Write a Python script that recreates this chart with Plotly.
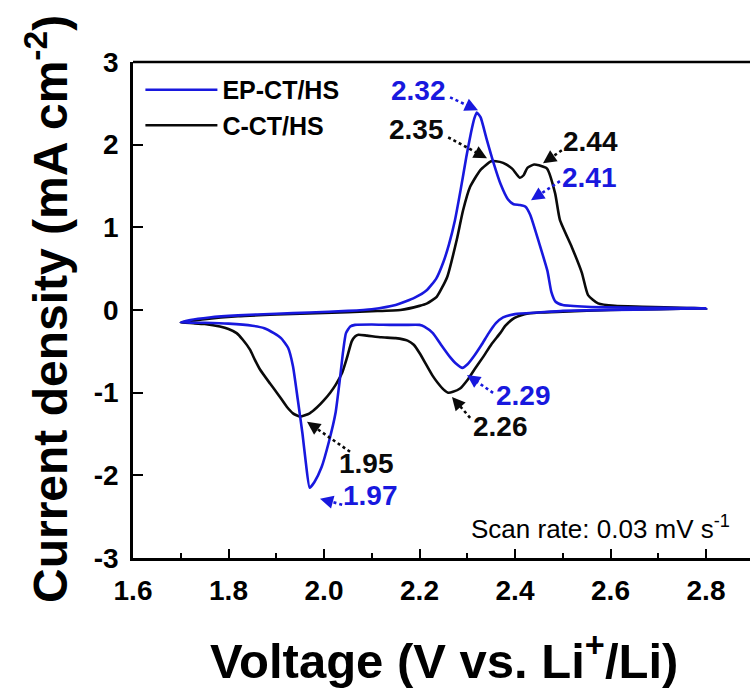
import plotly.graph_objects as go

# Cyclic voltammograms (current density vs. potential), each as anodic + cathodic sweep
ep_anodic_v = [1.70, 1.72, 1.76, 1.82, 1.90, 1.97, 2.05, 2.10, 2.15, 2.19, 2.215, 2.235,
               2.25, 2.262, 2.274, 2.286, 2.298, 2.308, 2.315, 2.32, 2.328, 2.34, 2.355,
               2.37, 2.385, 2.397, 2.41, 2.422, 2.432, 2.45, 2.468, 2.476, 2.485, 2.50,
               2.55, 2.65, 2.80]
ep_anodic_i = [-0.15, -0.12, -0.09, -0.065, -0.045, -0.03, -0.01, 0.01, 0.06, 0.15, 0.24, 0.38,
               0.58, 0.80, 1.08, 1.45, 1.85, 2.15, 2.32, 2.39, 2.33, 2.08, 1.78,
               1.52, 1.34, 1.28, 1.27, 1.25, 1.15, 0.82, 0.47, 0.22, 0.10, 0.06,
               0.04, 0.03, 0.02]
ep_cathodic_v = [2.80, 2.70, 2.60, 2.50, 2.45, 2.40, 2.375, 2.36, 2.345, 2.33, 2.315, 2.30,
                 2.29, 2.275, 2.264, 2.245, 2.228, 2.21, 2.20, 2.17, 2.14, 2.10, 2.065,
                 2.055, 2.046, 2.04, 2.034, 2.024, 2.01, 1.995, 1.98, 1.97, 1.962, 1.955,
                 1.945, 1.935, 1.925, 1.91, 1.895, 1.875, 1.85, 1.80, 1.75, 1.70]
ep_cathodic_i = [0.02, 0.01, 0.0, -0.01, -0.03, -0.05, -0.09, -0.16, -0.28, -0.42, -0.55, -0.66,
                 -0.70, -0.64, -0.57, -0.42, -0.28, -0.20, -0.18, -0.18, -0.18, -0.175, -0.18,
                 -0.20, -0.28, -0.50, -0.80, -1.25, -1.60, -1.90, -2.08, -2.15, -1.85, -1.50,
                 -1.08, -0.68, -0.46, -0.34, -0.28, -0.22, -0.19, -0.165, -0.155, -0.15]

c_anodic_v = [1.70, 1.75, 1.82, 1.90, 2.00, 2.10, 2.16, 2.20, 2.216, 2.236, 2.258, 2.278,
              2.291, 2.306, 2.327, 2.35, 2.36, 2.375, 2.394, 2.41, 2.418, 2.426, 2.44,
              2.45, 2.467, 2.484, 2.494, 2.519, 2.54, 2.553, 2.574, 2.609, 2.666, 2.76, 2.80]
c_anodic_i = [-0.15, -0.11, -0.075, -0.055, -0.035, -0.015, 0.0, 0.05, 0.08, 0.16, 0.40, 0.85,
              1.20, 1.49, 1.69, 1.80, 1.80, 1.78, 1.71, 1.60, 1.63, 1.72, 1.76,
              1.75, 1.71, 1.41, 1.09, 0.76, 0.45, 0.18, 0.08, 0.05, 0.04, 0.025, 0.02]
c_cathodic_v = [2.80, 2.70, 2.60, 2.50, 2.45, 2.42, 2.405, 2.395, 2.38, 2.369, 2.35, 2.333,
                2.315, 2.30, 2.285, 2.27, 2.26, 2.25, 2.238, 2.228, 2.214, 2.20, 2.188,
                2.175, 2.15, 2.12, 2.09, 2.072, 2.065, 2.058, 2.048, 2.038, 2.025, 2.013,
                2.00, 1.985, 1.97, 1.95, 1.935, 1.922, 1.905, 1.887, 1.866, 1.855, 1.845,
                1.83, 1.817, 1.80, 1.782, 1.75, 1.726, 1.70]
c_cathodic_i = [0.02, 0.01, 0.0, -0.02, -0.03, -0.05, -0.08, -0.11, -0.19, -0.28, -0.42, -0.57,
                -0.72, -0.85, -0.95, -0.99, -1.00, -0.96, -0.88, -0.80, -0.66, -0.52, -0.42,
                -0.37, -0.34, -0.33, -0.31, -0.30, -0.32, -0.38, -0.58, -0.76, -0.90, -1.00,
                -1.09, -1.18, -1.25, -1.29, -1.25, -1.17, -1.03, -0.89, -0.72, -0.60, -0.48,
                -0.36, -0.28, -0.23, -0.20, -0.17, -0.16, -0.15]

series_names = ["EP-CT/HS", "C-CT/HS"]

# Peak potential labels: (text, series index, label pos, arrow tail, arrow head)
peak_labels = [
    ("2.32", 0, (2.197, 2.657), (2.264, 2.572), (2.3225, 2.415)),
    ("2.35", 1, (2.193, 2.186), (2.260, 2.089), (2.3414, 1.836)),
    ("2.44", 1, (2.559, 2.041), (2.498, 1.932), (2.4586, 1.775)),
    ("2.41", 0, (2.557, 1.606), (2.494, 1.558), (2.4335, 1.3285)),
    ("2.29", 0, (2.417, -1.039), (2.354, -1.002), (2.2995, -0.785)),
    ("2.26", 1, (2.369, -1.413), (2.306, -1.304), (2.268, -1.051)),
    ("1.95", 1, (2.090, -1.860), (2.0545, -1.715), (1.9644, -1.353)),
    ("1.97", 0, (2.098, -2.246), (2.038, -2.355), (1.9916, -2.283)),
]

BLUE = "rgb(24,24,222)"
BLACK = "rgb(10,10,10)"
colors = [BLUE, BLACK]
FONT = "Liberation Sans, Arial, Helvetica, sans-serif"

X_RANGE = [1.6, 2.8921]
Y_RANGE = [-3, 3]
W, H = 750, 690
M_L, M_R, M_T, M_B = 133, 0, 62, 132
plot_w = W - M_L - M_R
plot_h = H - M_T - M_B
px_per_x = plot_w / (X_RANGE[1] - X_RANGE[0])
px_per_y = plot_h / (Y_RANGE[1] - Y_RANGE[0])

fig = go.Figure()

loops = [
    (ep_anodic_v + ep_cathodic_v[1:], ep_anodic_i + ep_cathodic_i[1:]),
    (c_anodic_v + c_cathodic_v[1:], c_anodic_i + c_cathodic_i[1:]),
]

# black loop underneath, blue on top
for idx in [1, 0]:
    v, i = loops[idx]
    fig.add_trace(go.Scatter(
        x=v, y=i, mode="lines", name=series_names[idx],
        line=dict(color=colors[idx], width=2.6, shape="spline", smoothing=0.5),
        legendrank=idx + 1,
    ))

annotations = []
shapes = []
for text, s, (tx, ty), (ax0, ay0), (hx, hy) in peak_labels:
    col = colors[s]
    annotations.append(dict(
        x=tx, y=ty, text=text, showarrow=False, xref="x", yref="y",
        font=dict(family=FONT, size=28, color=col, weight="bold"),
    ))
    # dotted shaft
    dxp = (hx - ax0) * px_per_x
    dyp = -(hy - ay0) * px_per_y
    length = (dxp ** 2 + dyp ** 2) ** 0.5
    ux, uy = dxp / length, dyp / length
    stop = 6.0
    ex = hx - ux * stop / px_per_x
    ey = hy + uy * stop / px_per_y
    shapes.append(dict(
        type="line", xref="x", yref="y", x0=ax0, y0=ay0, x1=ex, y1=ey,
        line=dict(color=col, width=2.6, dash="dot"),
    ))
    # arrow head
    annotations.append(dict(
        x=hx, y=hy, xref="x", yref="y", text="", showarrow=True,
        ax=-ux * 8, ay=-uy * 8, arrowhead=2, arrowsize=1.1, arrowwidth=2.4,
        arrowcolor=col,
    ))

# top frame line
shapes.append(dict(type="line", xref="paper", yref="paper", x0=0, x1=1, y0=1, y1=1,
                   line=dict(color="black", width=2.6)))

annotations.append(dict(
    x=2.58, y=-2.633, xref="x", yref="y", showarrow=False,
    text="Scan rate: 0.03 mV s<sup>-1</sup>",
    font=dict(family=FONT, size=26, color="black"),
))

# axis titles
annotations.append(dict(
    x=(444 - M_L) / plot_w, y=(plot_h + M_T - 657) / plot_h, xref="paper", yref="paper",
    showarrow=False, text="Voltage (V vs. Li<sup>+</sup>/Li)",
    font=dict(family=FONT, size=49, color="black", weight="bold"),
    xanchor="center", yanchor="middle",
))
annotations.append(dict(
    x=(47 - M_L) / plot_w, y=(plot_h + M_T - 309) / plot_h, xref="paper", yref="paper",
    showarrow=False, text="Current density (mA cm<sup>-2</sup>)", textangle=-90,
    font=dict(family=FONT, size=48, color="black", weight="bold"),
    xanchor="center", yanchor="middle",
))

fig.update_layout(
    width=W, height=H,
    margin=dict(l=M_L, r=M_R, t=M_T, b=M_B, pad=0),
    paper_bgcolor="white", plot_bgcolor="white",
    font=dict(family=FONT, color="black"),
    showlegend=True,
    legend=dict(
        x=0.012, y=0.99, xanchor="left", yanchor="top",
        font=dict(family=FONT, size=25, color="black", weight="bold"),
        bgcolor="rgba(0,0,0,0)", itemwidth=72, tracegroupgap=0,
    ),
    annotations=annotations,
    shapes=shapes,
)

fig.update_xaxes(
    range=X_RANGE, showgrid=False, zeroline=False,
    showline=True, linecolor="black", linewidth=2.6,
    ticks="inside", ticklen=9, tickwidth=2.4, tickcolor="black",
    tickmode="array", tickvals=[1.6, 1.8, 2.0, 2.2, 2.4, 2.6, 2.8],
    ticktext=["1.6", "1.8", "2.0", "2.2", "2.4", "2.6", "2.8"],
    tickfont=dict(family=FONT, size=28, color="black", weight="bold"),
    minor=dict(tickvals=[1.7, 1.9, 2.1, 2.3, 2.5, 2.7], ticks="inside", ticklen=5,
               tickwidth=2.2, tickcolor="black"),
    ticklabelstandoff=6,
)
fig.update_yaxes(
    range=Y_RANGE, showgrid=False, zeroline=False,
    showline=True, linecolor="black", linewidth=2.6,
    ticks="inside", ticklen=10, tickwidth=2.4, tickcolor="black",
    tickmode="array", tickvals=[-3, -2, -1, 0, 1, 2, 3],
    ticktext=["-3", "-2", "-1", "0", "1", "2", "3"],
    tickfont=dict(family=FONT, size=28, color="black", weight="bold"),
    ticklabelstandoff=6,
)

fig.write_html("out.html")
